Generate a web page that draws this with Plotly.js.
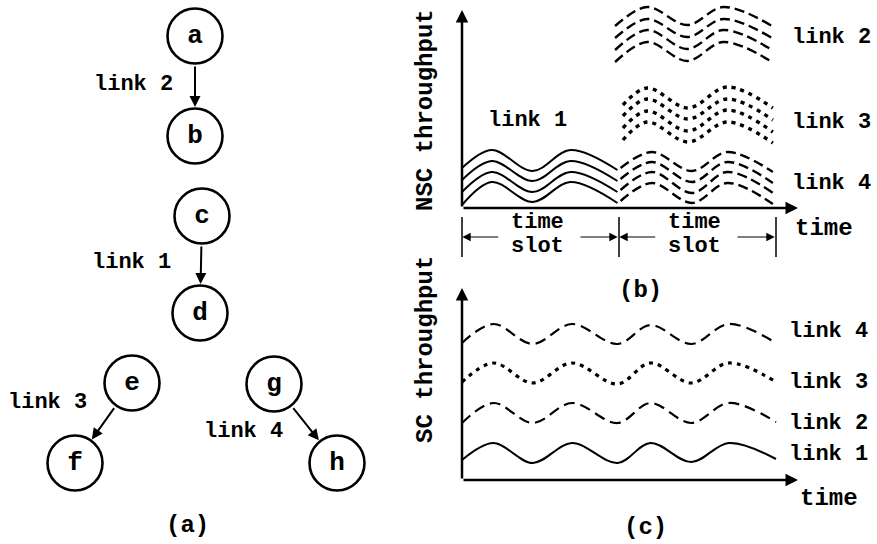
<!DOCTYPE html>
<html><head><meta charset="utf-8">
<script src="https://cdn.plot.ly/plotly-3.0.1.min.js"></script>
<style>html,body{margin:0;padding:0;background:#fff}#chart{width:877px;height:544px}</style>
</head><body><div id="chart"></div>
<script>
// ---------- panel (a): link graph ----------
const nodeNames = ['a','b','c','d','e','f','g','h'];
const nodeX = [195,195,202,200,132,75,274,337];
const nodeY = [36,136,216,313,383,463,384,463];
const edgeFrom = [0,2,4,6];
const edgeTo = [1,3,5,7];
const edgeLabels = ['link 2','link 1','link 3','link 4'];

// ---------- panel (b): NSC throughput (time in slots) ----------
const nscL1X = [0, 0.19, 0.45, 0.69, 0.99];
const nscL1a = [4.0, 5.8, 3.7, 5.8, 3.8];
const nscL1b = [2.8, 4.7, 2.7, 4.7, 2.7];
const nscL1c = [1.6, 3.6, 1.6, 3.6, 1.6];
const nscL1d = [0.3, 2.6, 0.6, 2.6, 0.5];

const nscL4X = [1.01, 1.21, 1.465, 1.69, 1.98];
const nscL4a = [4.0, 5.6, 3.7, 5.6, 3.6];
const nscL4b = [2.9, 4.6, 2.6, 4.6, 2.5];
const nscL4c = [1.8, 3.6, 1.5, 3.6, 1.5];
const nscL4d = [0.7, 2.5, 0.5, 2.5, 0.4];

const nscL3X = [1.025, 1.18, 1.44, 1.69, 1.98];
const nscL3a = [10.3, 12.0, 10.0, 12.1, 10.0];
const nscL3b = [9.2, 10.9, 8.9, 10.9, 8.8];
const nscL3c = [8.0, 9.7, 7.7, 9.8, 7.6];
const nscL3d = [6.8, 8.6, 6.6, 8.6, 6.5];

const nscL2X = [0.975, 1.18, 1.435, 1.665, 1.975];
const nscL2a = [18.2, 20.1, 18.3, 20.1, 18.2];
const nscL2b = [17.0, 18.9, 17.1, 18.9, 17.0];
const nscL2c = [15.8, 17.8, 15.9, 17.8, 15.8];
const nscL2d = [14.6, 16.6, 14.7, 16.6, 14.6];

const slotEdges = [0, 1, 2];

// ---------- panel (c): SC throughput ----------
const scX = [0, 0.2, 0.45, 0.7, 0.99, 1.2, 1.46, 1.7, 2.0];
const scL4 = [13.7, 15.6, 13.6, 15.6, 13.6, 15.5, 13.6, 15.6, 13.7];
const scL3 = [9.8, 11.7, 9.7, 11.7, 9.6, 11.7, 9.7, 11.7, 9.8];
const scL2 = [5.7, 7.7, 5.7, 7.7, 5.7, 7.7, 5.7, 7.7, 5.8];
const scL1 = [2.0, 3.7, 1.7, 3.7, 1.7, 3.7, 1.8, 3.7, 2.1];

// ---------- build ----------
const FONT = 'Liberation Mono, Courier New, monospace';
const traces = [];
function wave(x, y, xa, ya, dash, width) {
  traces.push({x: x, y: y, xaxis: xa, yaxis: ya, type: 'scatter', mode: 'lines',
    line: {shape: 'spline', smoothing: 1, color: '#000', width: width, dash: dash},
    hoverinfo: 'skip', showlegend: false});
}
[nscL1a, nscL1b, nscL1c, nscL1d].forEach(y => wave(nscL1X, y, 'x', 'y', 'solid', 2));
[nscL4a, nscL4b, nscL4c, nscL4d].forEach(y => wave(nscL4X, y, 'x', 'y', '10px,5px', 2.4));
[nscL3a, nscL3b, nscL3c, nscL3d].forEach(y => wave(nscL3X, y, 'x', 'y', '4px,5px', 3.4));
[nscL2a, nscL2b, nscL2c, nscL2d].forEach(y => wave(nscL2X, y, 'x', 'y', '10px,5px', 2.4));

wave(scX, scL4, 'x2', 'y2', '11px,6px', 2.2);
wave(scX, scL3, 'x2', 'y2', '4px,5px', 3.2);
wave(scX, scL2, 'x2', 'y2', '11px,6px', 2.2);
wave(scX, scL1, 'x2', 'y2', 'solid', 2);

// slot boundary ticks
const tx = [], ty = [];
slotEdges.forEach(s => { tx.push(s, s, null); ty.push(-0.9, -4.9, null); });
traces.push({x: tx, y: ty, xaxis: 'x', yaxis: 'y', type: 'scatter', mode: 'lines',
  line: {color: '#000', width: 1.5}, hoverinfo: 'skip', showlegend: false});

// nodes
traces.push({x: nodeX, y: nodeY, xaxis: 'x3', yaxis: 'y3', type: 'scatter', mode: 'markers+text',
  text: nodeNames, textposition: 'middle center',
  textfont: {family: FONT, size: 26, color: '#000', weight: 'bold'},
  marker: {symbol: 'circle', size: 55, color: '#fff', line: {color: '#000', width: 2.6}},
  hoverinfo: 'skip', showlegend: false, cliponaxis: false});

const ann = [];
function arrow(x, y, ax, ay, xr, yr, w, size) {
  ann.push({x: x, y: y, ax: ax, ay: ay, xref: xr, yref: yr, axref: xr, ayref: yr, text: '',
    showarrow: true, arrowhead: 2, arrowsize: size, arrowwidth: w, arrowcolor: '#000',
    standoff: 0, startstandoff: 0});
}
function label(text, x, y, xr, yr, size, xanchor, angle) {
  ann.push({text: text, x: x, y: y, xref: xr, yref: yr, showarrow: false,
    xanchor: xanchor || 'center', yanchor: 'middle', textangle: angle || 0,
    font: {family: FONT, size: size, color: '#000', weight: 'bold'}});
}

// graph edges
const R = 29;
edgeFrom.forEach((f, i) => {
  const t = edgeTo[i];
  const dx = nodeX[t] - nodeX[f], dy = nodeY[t] - nodeY[f];
  const L = Math.sqrt(dx * dx + dy * dy), ux = dx / L, uy = dy / L;
  arrow(nodeX[t] - R * ux, nodeY[t] - R * uy, nodeX[f] + R * ux, nodeY[f] + R * uy, 'x3', 'y3', 2, 1.1);
});
const edgeLabelPos = [[133, 84], [131, 262], [47, 402], [243, 431]];
edgeLabels.forEach((t, i) => label(t, edgeLabelPos[i][0], edgeLabelPos[i][1], 'x3', 'y3', 22));
label('(a)', 187, 525, 'x3', 'y3', 24);

// panel (b) axes
arrow(0, 19.8, 0, 0, 'x', 'y', 2.5, 1);
arrow(2.14, 0, 0, 0, 'x', 'y', 2.5, 1);
label('NSC throughput', -0.236, 9.8, 'x', 'y', 24, 'center', -90);
label('time', 2.108, -2.0, 'x', 'y', 24, 'left');
label('link 1', 0.42, 8.8, 'x', 'y', 22);
label('link 2', 2.089, 17.1, 'x', 'y', 22, 'left');
label('link 3', 2.089, 8.6, 'x', 'y', 22, 'left');
label('link 4', 2.089, 2.5, 'x', 'y', 22, 'left');
slotEdges.slice(0, -1).forEach(s => {
  arrow(s + 0.002, -2.9, s + 0.24, -2.9, 'x', 'y', 1.2, 1.4);
  arrow(s + 0.992, -2.9, s + 0.745, -2.9, 'x', 'y', 1.2, 1.4);
  label('time', s + 0.48, -1.4, 'x', 'y', 22);
  label('slot', s + 0.48, -3.85, 'x', 'y', 22);
});
label('(b)', 1.14, 19.0, 'x2', 'y2', 24);

// panel (c) axes
arrow(0, 19.2, 0, 0, 'x2', 'y2', 2.5, 1);
arrow(2.14, 0, 0, 0, 'x2', 'y2', 2.5, 1);
label('SC throughput', -0.236, 13.1, 'x2', 'y2', 24, 'center', -90);
label('time', 2.14, -1.8, 'x2', 'y2', 24, 'left');
label('link 4', 2.07, 14.9, 'x2', 'y2', 22, 'left');
label('link 3', 2.07, 9.8, 'x2', 'y2', 22, 'left');
label('link 2', 2.07, 5.7, 'x2', 'y2', 22, 'left');
label('link 1', 2.07, 2.6, 'x2', 'y2', 22, 'left');
label('(c)', 1.166, -4.7, 'x2', 'y2', 24);

// ---------- layout ----------
const W = 877, H = 544;
const splitX = 400 / W;          // left edge of right panels
const splitY = 274 / H;          // boundary between (b) and (c)
const hid = {visible: false, fixedrange: true};
const xr = [(400 - 462) / 157, (877 - 462) / 157];
const layout = {
  width: W, height: H, margin: {l: 0, r: 0, t: 0, b: 0},
  paper_bgcolor: '#fff', plot_bgcolor: '#fff', showlegend: false,
  xaxis: Object.assign({domain: [splitX, 1], range: xr, anchor: 'y'}, hid),
  yaxis: Object.assign({domain: [splitY, 1], range: [-6.2, 20.8], anchor: 'x'}, hid),
  xaxis2: Object.assign({domain: [splitX, 1], range: xr, anchor: 'y2'}, hid),
  yaxis2: Object.assign({domain: [0, splitY], range: [-6.4, 21], anchor: 'x2'}, hid),
  xaxis3: Object.assign({domain: [0, splitX], range: [0, 400], anchor: 'y3'}, hid),
  yaxis3: Object.assign({domain: [0, 1], range: [544, 0], anchor: 'x3'}, hid),
  annotations: ann
};
Plotly.newPlot('chart', traces, layout, {staticPlot: true, displayModeBar: false});
</script></body></html>
